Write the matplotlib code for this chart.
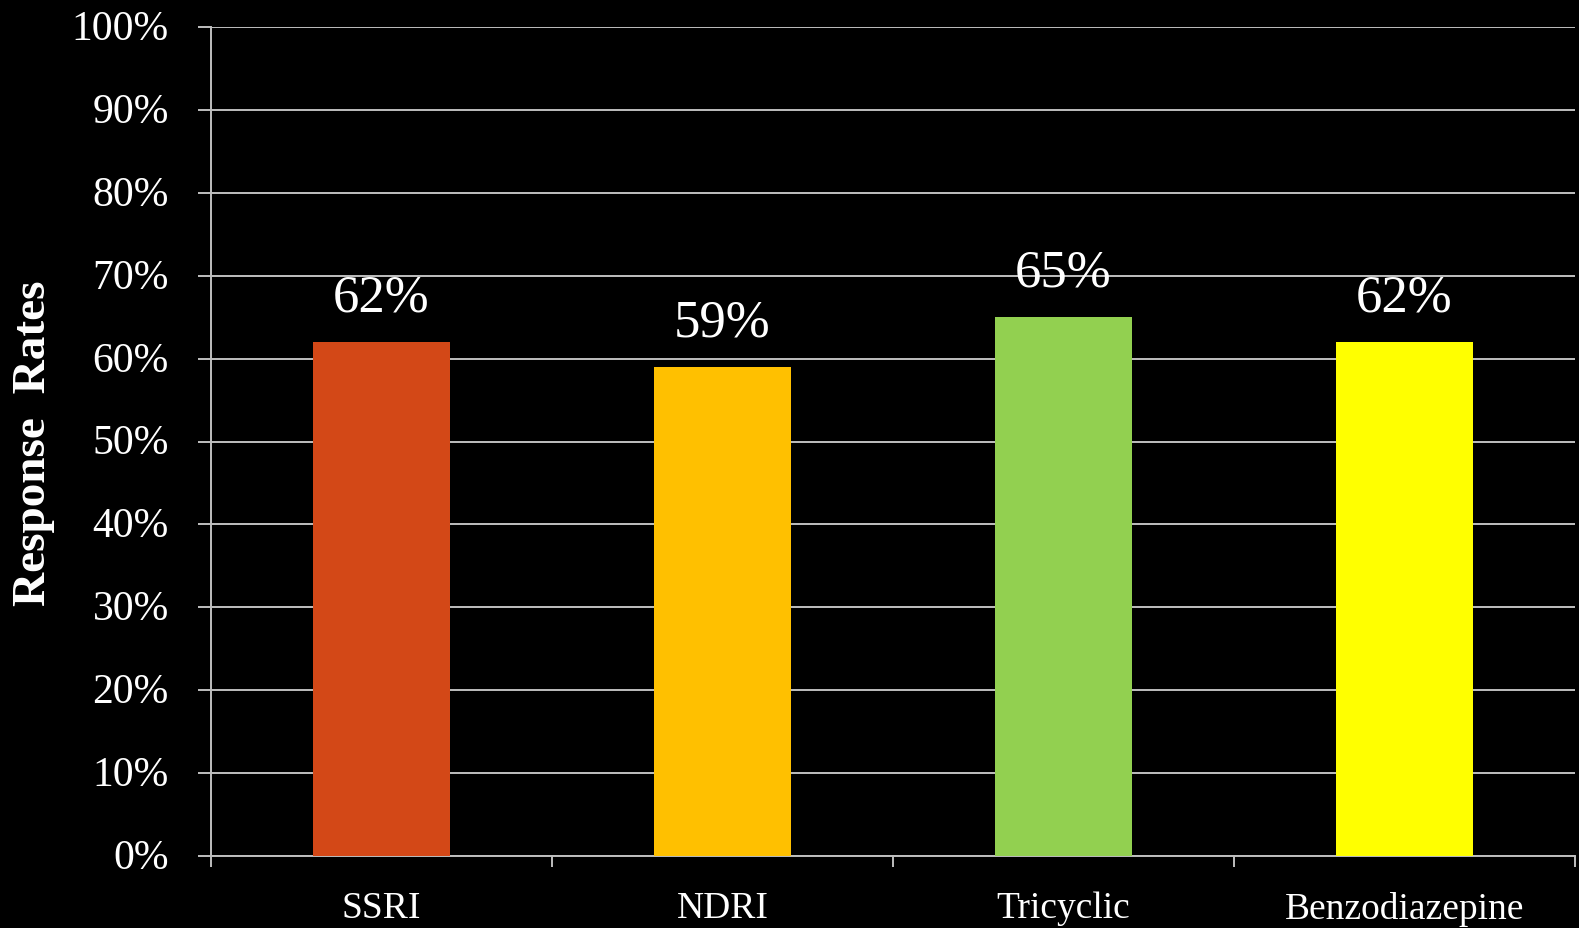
import matplotlib
matplotlib.use("Agg")
import matplotlib.pyplot as plt
import matplotlib.transforms as mtransforms
from matplotlib.ticker import FixedLocator, FixedFormatter

categories = ["SSRI", "NDRI", "Tricyclic", "Benzodiazepine"]
values = [62, 59, 65, 62]
colors = ["#D34817", "#FFC000", "#92D050", "#FFFF00"]
yticks = [0, 10, 20, 30, 40, 50, 60, 70, 80, 90, 100]
ylabel = "Response  Rates"

plt.rcParams['font.family'] = ['Liberation Serif', 'DejaVu Serif']
grey = "#BFBFBF"

fig = plt.figure(figsize=(15.79, 9.29), dpi=100, facecolor="black")
ax = fig.add_axes([211/1579, 1-857/929, (1575-211)/1579, (857-28)/929])
ax.set_facecolor("black")

x = list(range(len(categories)))
bars = ax.bar(x, values, width=0.4, color=colors, zorder=3)

for xi, v in zip(x, values):
    ax.annotate(f"{v}%", (xi, v), xytext=(0, 15), textcoords="offset points",
                ha="center", va="bottom", color="white", fontsize=38)

ax.set_xlim(-0.5, len(categories) - 0.5)
ax.set_ylim(0, 100)
ax.yaxis.set_major_locator(FixedLocator(yticks))
ax.set_yticklabels([f"{t}%" for t in yticks])
ax.xaxis.set_major_locator(FixedLocator([i - 0.5 for i in range(len(categories) + 1)]))
ax.xaxis.set_major_formatter(FixedFormatter([""] * (len(categories) + 1)))
ax.xaxis.set_minor_locator(FixedLocator(x))
ax.xaxis.set_minor_formatter(FixedFormatter(categories))

ax.tick_params(axis="y", colors=grey, labelcolor="white", labelsize=30, length=9.4, width=1.4, pad=21)
ax.tick_params(axis="x", which="major", colors=grey, length=8, width=1.4)
ax.tick_params(axis="x", which="minor", length=0, labelcolor="white", labelsize=27, pad=25)

# nudge y tick labels up slightly
offset = mtransforms.ScaledTranslation(0, 2/72, fig.dpi_scale_trans)
for lab in ax.get_yticklabels():
    lab.set_transform(lab.get_transform() + offset)

ax.grid(axis="y", color=grey, linewidth=1.4, zorder=0)
ax.set_axisbelow(True)
for s in ["top", "right"]:
    ax.spines[s].set_visible(False)
for s in ["left", "bottom"]:
    ax.spines[s].set_color(grey)
    ax.spines[s].set_linewidth(1.4)

fig.text(34/1579, 1-443/929, ylabel, rotation=90, ha="center", va="center",
         color="white", fontsize=34, fontweight="bold")

fig.savefig("out.png", dpi=100, facecolor="black")
